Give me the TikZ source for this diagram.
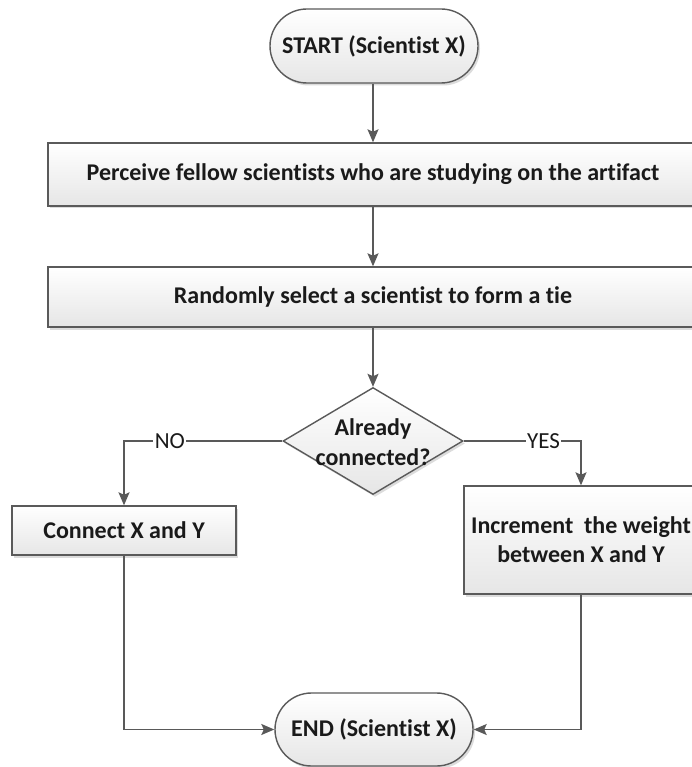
\documentclass[tikz,border=0pt]{standalone}
\usepackage{fontspec}
\setmainfont[Ligatures=NoCommon]{Carlito}
\usetikzlibrary{shapes.misc,shapes.geometric,arrows.meta,shadows}
\definecolor{edgec}{HTML}{5A5A5A}
\definecolor{linec}{HTML}{595959}
\definecolor{txtc}{HTML}{1A1A1A}
\definecolor{boxbot}{HTML}{E6E6E6}
\begin{document}
\begin{tikzpicture}[x=1pt,y=-1pt,
  base/.style={draw=edgec, line width=1.4pt, top color=white, bottom color=boxbot,
    text=txtc, font=\bfseries\fontsize{24}{29}\selectfont, align=center, inner sep=0pt,
    drop shadow={shadow xshift=2pt, shadow yshift=-2.5pt, fill=black!30, opacity=0.45}},
  termbox/.style={base, rounded rectangle},
  procbox/.style={base, rectangle},
  decbox/.style={base, diamond},
  arr/.style={draw=linec, line width=1.4pt, -{Stealth[length=13pt,width=11pt,inset=2.5pt]}},
  lbl/.style={fill=white, inner sep=1.5pt, text=txtc, font=\fontsize{23}{26}\selectfont}
]
\useasboundingbox (0,0) rectangle (691,767);
\fill[white] (0,0) rectangle (691,767);

\node[termbox, minimum width=208pt, minimum height=74pt] (start) at (374,46) {START (Scientist X)};
\node[procbox, minimum width=650pt, minimum height=63pt] (box1) at (373,174.5) {Perceive fellow scientists who are studying on the artifact};
\node[procbox, minimum width=650pt, minimum height=60pt] (box2) at (373,297) {Randomly select a scientist to form a tie};
\node[decbox, minimum width=180pt, minimum height=107pt] (dec) at (373,441) {};
\node[text=txtc, font=\bfseries\fontsize{24}{30}\selectfont, align=center] (dectext) at (373,442) {Already\\connected?};
\node[procbox, minimum width=224pt, minimum height=49pt] (connect) at (124,530.5) {Connect X and Y};
\node[procbox, minimum width=234pt, minimum height=108pt] (incr) at (581,540) {Increment\ \ the weight\\between X and Y};
\node[termbox, minimum width=198pt, minimum height=73pt] (end) at (374,729.5) {END (Scientist X)};

\coordinate (nocorner) at (connect.north |- dec.west);
\coordinate (yescorner) at (incr.north |- dec.east);
\coordinate (lcorner) at (connect.south |- end.west);
\coordinate (rcorner) at (incr.south |- end.east);

\draw[arr] (start.south -| box1.north) -- (box1.north);
\draw[arr] (box1.south) -- (box2.north);
\draw[arr] (box2.south) -- (dec.north);
\draw[arr] (dec.west) -- node[lbl, pos=0.71] (nolbl) {NO} (nocorner) -- (connect.north);
\draw[arr] (dec.east) -- node[lbl, pos=0.68] (yeslbl) {YES} (yescorner) -- (incr.north);
\draw[arr] (connect.south) -- (lcorner) -- (end.west);
\draw[arr] (incr.south) -- (rcorner) -- (end.east);
\end{tikzpicture}
\end{document}
